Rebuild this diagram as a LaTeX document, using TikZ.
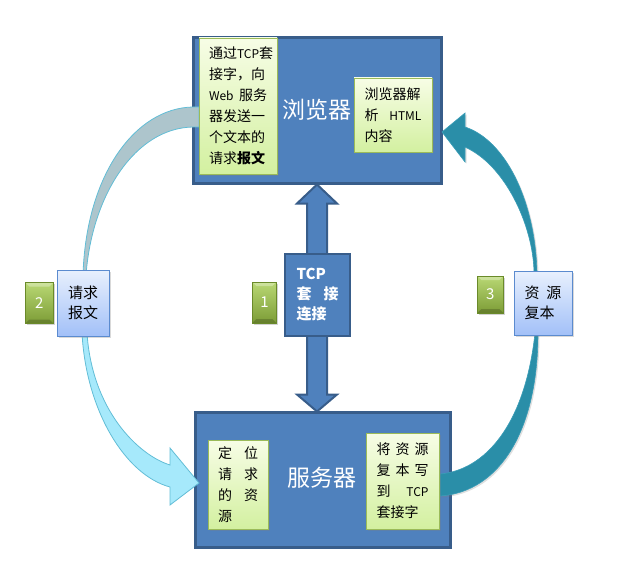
\documentclass[tikz,border=0pt]{standalone}
\usepackage{fontspec}
\setmainfont{Noto Sans CJK SC}
\usetikzlibrary{positioning,shadows}
\definecolor{boxblue}{HTML}{4F81BD}
\definecolor{boxedge}{HTML}{385D8A}
\definecolor{notetop}{HTML}{F7FDE6}
\definecolor{notebot}{HTML}{D3F0A0}
\definecolor{noteedge}{HTML}{9BBB59}
\definecolor{tagtop}{HTML}{E8F0FD}
\definecolor{tagbot}{HTML}{A2C0F8}
\definecolor{tagedge}{HTML}{5B8BCF}
\definecolor{badgetop}{HTML}{B9D874}
\definecolor{badgebot}{HTML}{7C9C36}
\definecolor{badgeedge}{HTML}{6A8A2A}
\definecolor{reqgray}{HTML}{ADC5CC}
\definecolor{reqcyan}{HTML}{A6E9FB}
\definecolor{reqedge}{HTML}{62BDD6}
\definecolor{resteal}{HTML}{2A8EA8}
\definecolor{resedge}{HTML}{3A9DB7}
\newcommand\lat[1]{{\fontsize{12}{21}\selectfont #1}}

\begin{document}
\begin{tikzpicture}[
  x=1pt, y=-1pt,
  mainbox/.style={draw=boxedge, line width=3pt, fill=boxblue, inner sep=0pt},
  title/.style={text=white, font=\fontsize{23}{26}\selectfont},
  note/.style={draw=noteedge, line width=.8pt, top color=notetop, bottom color=notebot,
    drop shadow={opacity=.3, shadow xshift=1.5pt, shadow yshift=-1.5pt},
    align=left, inner sep=0pt, font=\fontsize{14}{21}\selectfont},
  tag/.style={draw=tagedge, line width=.8pt, top color=tagtop, bottom color=tagbot,
    drop shadow={opacity=.3, shadow xshift=1.5pt, shadow yshift=-1.5pt},
    align=left, inner sep=0pt, font=\fontsize{15}{20}\selectfont},
  badge/.style={draw=badgeedge, line width=.6pt, top color=badgetop, bottom color=badgebot,
    drop shadow={opacity=.35, shadow xshift=1.5pt, shadow yshift=-1.5pt},
    text=white, inner sep=0pt, font=\fontsize{15}{18}\selectfont,
    path picture={
      \fill[white, opacity=.3] (path picture bounding box.north west) -- (path picture bounding box.north east)
        -- ([xshift=-4pt, yshift=-4pt]path picture bounding box.north east)
        -- ([xshift=4pt, yshift=-4pt]path picture bounding box.north west) -- cycle;
      \fill[black, opacity=.18] (path picture bounding box.south west) -- (path picture bounding box.south east)
        -- ([xshift=-4pt, yshift=4pt]path picture bounding box.south east)
        -- ([xshift=4pt, yshift=4pt]path picture bounding box.south west) -- cycle;}},
  linkbox/.style={draw=boxedge, line width=2.5pt, fill=boxblue, text=white, align=left,
    inner sep=0pt, font=\bfseries\fontsize{15}{20}\selectfont},
  dblarrow/.style={draw=boxedge, line width=2pt, fill=boxblue},
  reqband/.style={draw=reqedge, line width=.8pt},
  resband/.style={draw=resedge, line width=.6pt, fill=resteal,
    drop shadow={opacity=.25, shadow xshift=1.5pt, shadow yshift=-1.5pt}}]

\useasboundingbox (0,0) rectangle (636,580);

\node[mainbox, minimum width=248pt, minimum height=145pt] (browser) at (317,110.5) {};
\node[title] (brTitle) at (317,110) {浏览器};
\node[mainbox, minimum width=255pt, minimum height=135pt] (server) at (322.5,479.5) {};
\node[title] (svTitle) at (322,478) {服务器};

% 请求报文：浏览器 -> 服务器
\path[reqband, fill=reqgray] (199,107) -- (193,107) .. controls (135,108) and (86,175) .. (83,275)
  -- (86,275) .. controls (92,195) and (135,128) .. (193,127) -- (199,127) -- cycle;
\path[reqband, fill=reqcyan] (82,333) .. controls (86,410) and (125,475) .. (170,487)
  -- (170,505) -- (199,483) -- (170,448) -- (170,465) .. controls (138,455) and (92,410) .. (87,333) -- cycle;

% 资源复本：服务器 -> 浏览器
\path[resband] (534,272) .. controls (533,225) and (505,165) .. (465,147)
  -- (465,162) -- (442,132) -- (465,113) -- (465,127) .. controls (505,140) and (535,200) .. (537,272) -- cycle;
\path[resband] (538,333) .. controls (538,430) and (500,492) .. (440,496)
  -- (440,474) .. controls (485,470) and (525,425) .. (535,333) -- cycle;

\node[note, text width=58pt, minimum width=78pt, minimum height=136pt] (brSend) at (238,106)
  {通过\lat{TCP}套\\接字，向\\\lat{Web}\hfill 服务\\器发送一\\个文本的\\请求\textbf{报文}};
\node[note, text width=57pt, minimum width=78pt, minimum height=74pt] (brParse) at (393,115)
  {浏览器解\\析\hfill \lat{HTML}\\内容};
\node[note, text width=40pt, minimum width=60pt, minimum height=89pt] (svFind) at (238,484.5)
  {定\hfill 位\\请\hfill 求\\的\hfill 资\\源};
\node[note, text width=52pt, minimum width=73pt, minimum height=96pt] (svWrite) at (402.5,481)
  {将\hfill 资\hfill 源\\复\hfill 本\hfill 写\\到\hfill \lat{TCP}\\套接字};

% TCP 套接连接
\draw[dblarrow] (browser.south) -- ++(20,19) -- ++(-10,0) -- ++(0,191) -- ++(10,0) -- ++(-20,17)
  -- ++(-20,-17) -- ++(10,0) -- ++(0,-191) -- ++(-10,0) -- cycle;
\node[linkbox, text width=42pt, minimum width=65pt, minimum height=82pt] (tcp) at (317.5,295)
  {TCP\\套\hfill 接\\连接};

\node[tag, text width=30pt, minimum width=52pt, minimum height=66pt] (req) at (83,303) {请求\\报文};
\node[tag, text width=37pt, minimum width=58pt, minimum height=64pt] (res) at (543,303) {资\hfill 源\\复本};

\node[badge, minimum width=24pt, minimum height=41pt, left=7pt of tcp, yshift=-7.5pt] (n1) {1};
\node[badge, minimum width=28pt, minimum height=41pt, left=3pt of req] (n2) {2};
\node[badge, minimum width=26pt, minimum height=37pt, left=10pt of res, yshift=8.5pt] (n3) {3};

\end{tikzpicture}
\end{document}
